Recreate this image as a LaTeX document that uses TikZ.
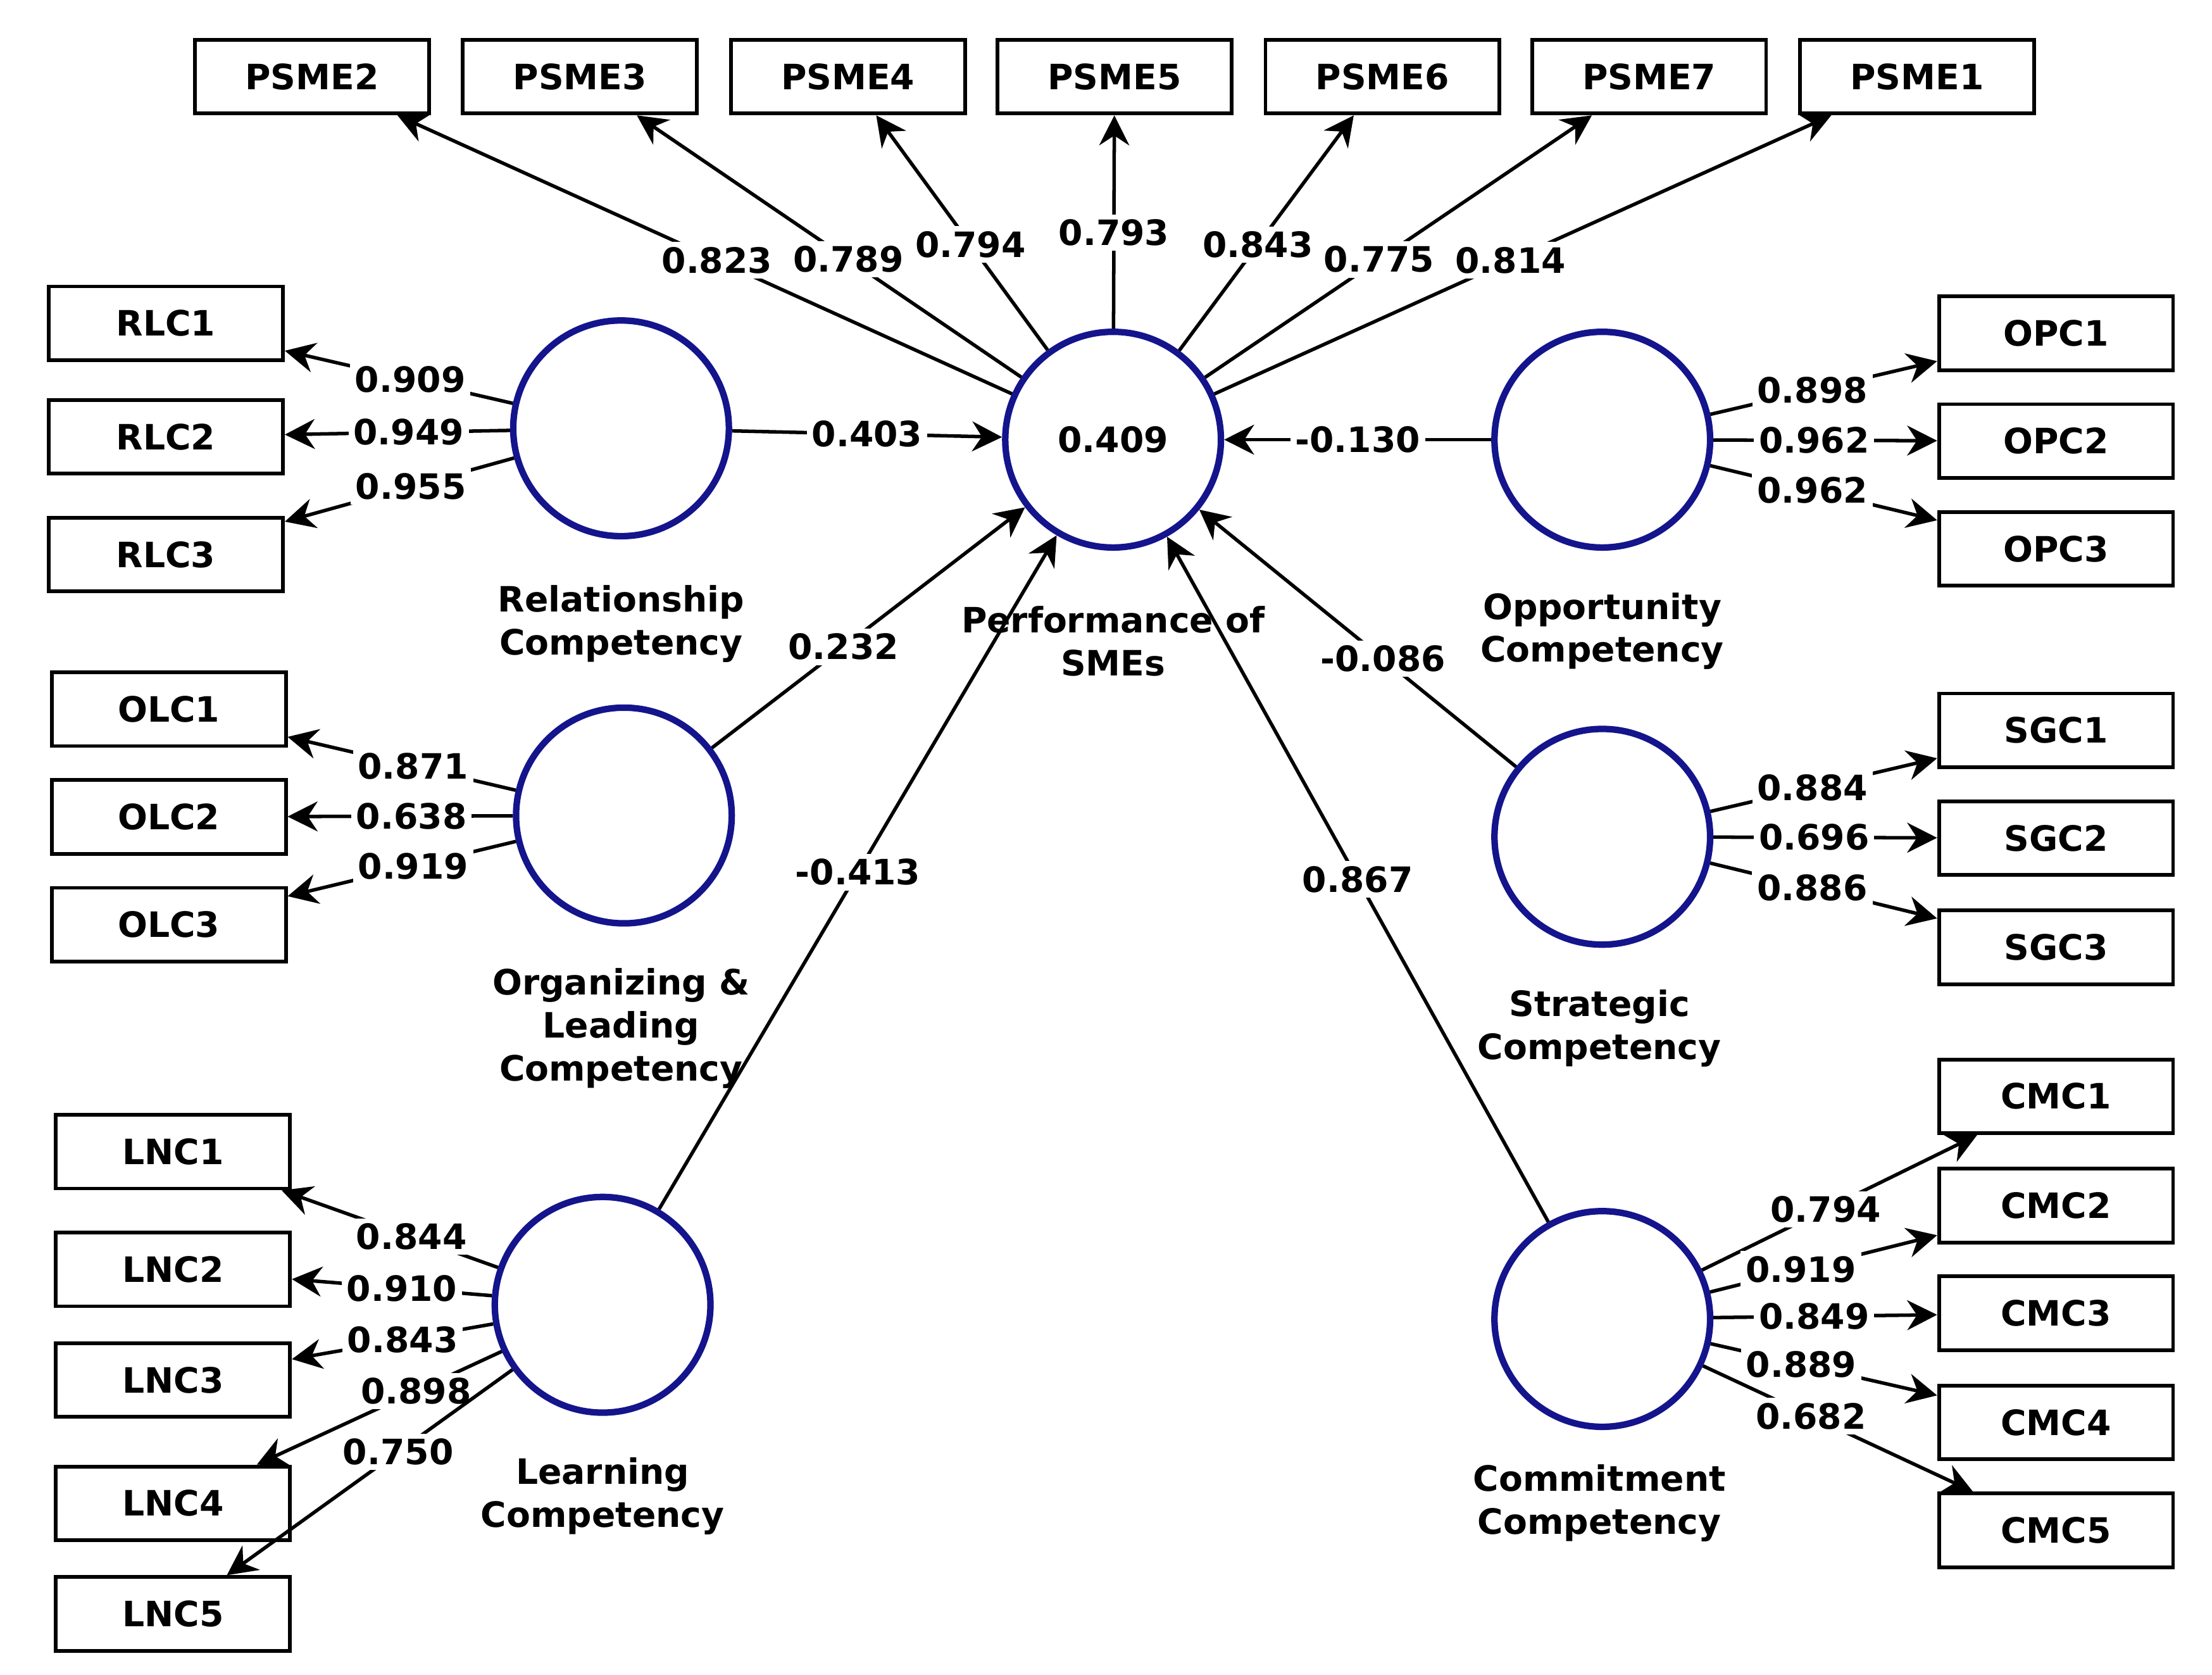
\documentclass[tikz,border=0pt]{standalone}
\usepackage{fontspec}
\setmainfont{DejaVu Sans}
\usetikzlibrary{arrows.meta}
\begin{document}
\begin{tikzpicture}[x=0.01cm,y=-0.01cm,
 font=\fontsize{7}{8.6}\selectfont\bfseries,
 ind/.style={draw,line width=0.75pt,minimum width=1.65cm,minimum height=0.52cm,inner sep=0},
 lv/.style={circle,draw={rgb,255:red,20;green,20;blue,140},line width=1.3pt,minimum size=1.52cm,inner sep=0},
 ar/.style={line width=0.7pt,-{Stealth[length=6pt,width=6pt]}},
 lab/.style={fill=white,inner sep=1pt},
 lvcap/.style={align=center}]
\useasboundingbox (0,0) rectangle (1560,1181);
% latent variables
\node[lv] (P) at (785,310) {0.409};
\node[lv] (R) at (438,302) {};
\node[lv] (O) at (1130,310) {};
\node[lv] (OL) at (440,575) {};
\node[lv] (S) at (1130,590) {};
\node[lv] (L) at (425,920) {};
\node[lv] (C) at (1130,930) {};
\node[lvcap] (Rc) at (438,440) {Relationship\\Competency};
\node[lvcap] (Pc) at (785,452) {Performance of\\SMEs};
\node[lvcap] (Oc) at (1130,445) {Opportunity\\Competency};
\node[lvcap] (OLc) at (438,725) {Organizing \&\\Leading\\Competency};
\node[lvcap] (Sc) at (1128,725) {Strategic\\Competency};
\node[lvcap] (Lc) at (425,1055) {Learning\\Competency};
\node[lvcap] (Cc) at (1128,1060) {Commitment\\Competency};
% indicators
\foreach \n/\x in {2/220,3/409,4/598,5/786,6/975,7/1163,1/1352}{\node[ind] (PSME\n) at (\x,54) {PSME\n};}
\foreach \n/\y in {1/228,2/308,3/391}{\node[ind] (RLC\n) at (117,\y) {RLC\n};}
\foreach \n/\y in {1/500,2/576,3/652}{\node[ind] (OLC\n) at (119,\y) {OLC\n};}
\foreach \n/\y in {1/812,2/895,3/973,4/1060,5/1138}{\node[ind] (LNC\n) at (122,\y) {LNC\n};}
\foreach \n/\y in {1/235,2/311,3/387}{\node[ind] (OPC\n) at (1450,\y) {OPC\n};}
\foreach \n/\y in {1/515,2/591,3/668}{\node[ind] (SGC\n) at (1450,\y) {SGC\n};}
\foreach \n/\y in {1/773,2/850,3/926,4/1003,5/1079}{\node[ind] (CMC\n) at (1450,\y) {CMC\n};}
% outer loadings
\foreach \n/\v/\p in {2/0.823/0.48,3/0.789/0.45,4/0.794/0.45,5/0.793/0.45,6/0.843/0.45,7/0.775/0.45,1/0.814/0.48}
 {\draw[ar] (P) -- node[lab,pos=\p]{\v} (PSME\n);}
\foreach \n/\v in {1/0.909,2/0.949,3/0.955}{\draw[ar] (R) -- node[lab,pos=0.45]{\v} (RLC\n);}
\foreach \n/\v in {1/0.871,2/0.638,3/0.919}{\draw[ar] (OL) -- node[lab,pos=0.45]{\v} (OLC\n);}
\foreach \n/\v/\p in {1/0.844/0.4,2/0.910/0.45,3/0.843/0.45,4/0.898/0.35,5/0.750/0.4}{\draw[ar] (L) -- node[lab,pos=\p]{\v} (LNC\n);}
\foreach \n/\v in {1/0.898,2/0.962,3/0.962}{\draw[ar] (O) -- node[lab,pos=0.45]{\v} (OPC\n);}
\foreach \n/\v in {1/0.884,2/0.696,3/0.886}{\draw[ar] (S) -- node[lab,pos=0.45]{\v} (SGC\n);}
\foreach \n/\v/\p in {1/0.794/0.45,2/0.919/0.4,3/0.849/0.45,4/0.889/0.4,5/0.682/0.4}{\draw[ar] (C) -- node[lab,pos=\p]{\v} (CMC\n);}
% structural paths
\draw[ar] (R) -- node[lab]{0.403} (P);
\draw[ar] (O) -- node[lab]{-0.130} (P);
\draw[ar] (OL) -- node[lab,pos=0.42]{0.232} (P);
\draw[ar] (S) -- node[lab,pos=0.42]{-0.086} (P);
\draw[ar] (L) -- node[lab,pos=0.5]{-0.413} (P);
\draw[ar] (C) -- node[lab,pos=0.5]{0.867} (P);
\end{tikzpicture}
\end{document}
